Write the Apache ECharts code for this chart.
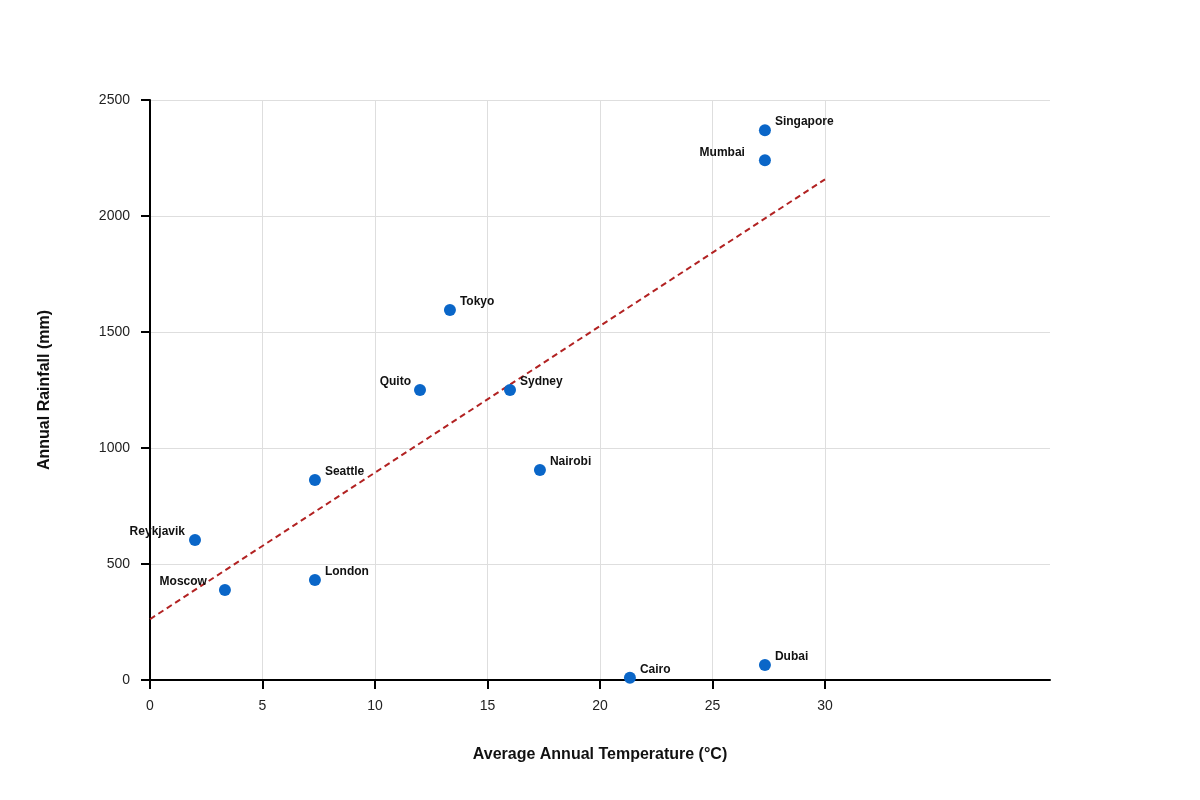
<!DOCTYPE html>
<html>
<head>
<meta charset="utf-8">
<script src="https://cdn.jsdelivr.net/npm/echarts@6/dist/echarts.min.js"></script>
<style>html,body{margin:0;padding:0;background:#fff}#c{width:1200px;height:800px}</style>
</head>
<body>
<div id="c"></div>
<script>
var cities = ['Singapore','Mumbai','Tokyo','Quito','Sydney','Nairobi','Seattle','Reykjavik','Moscow','London','Cairo','Dubai'];
var temperature = [27.33, 27.33, 13.33, 12.0, 16.0, 17.33, 7.33, 2.0, 3.33, 7.33, 21.33, 27.33];
var rainfall = [2370, 2240, 1595, 1250, 1250, 905, 862, 603, 388, 431, 10, 65];
var labelSide = ['right','left','right','left','right','right','right','left','left','right','right','right'];
var labelGap = [4, 14, 4, 3, 4, 4, 4, 4, 12, 4, 4, 4];
var trendX = [0, 30];
var trendY = [262, 2158];
var xTickValues = [0, 5, 10, 15, 20, 25, 30];

var font = 'Liberation Sans, Arial, Helvetica, sans-serif';
var pts = cities.map(function(c, i){
  return {
    name: c,
    value: [temperature[i], rainfall[i]],
    label: { position: labelSide[i], distance: labelGap[i] }
  };
});
var trend = trendX.map(function(x, i){ return [x, trendY[i]]; });

var chart = echarts.init(document.getElementById('c'), null, {renderer: 'canvas'});
chart.setOption({
  animation: false,
  backgroundColor: '#fff',
  grid: { left: 150, right: 150, top: 100, bottom: 120, containLabel: false },
  xAxis: {
    type: 'value', min: 0, max: 40, interval: 5,
    name: 'Average Annual Temperature (°C)',
    nameLocation: 'middle', nameGap: 67,
    nameTextStyle: { fontFamily: font, fontSize: 16, fontWeight: 'bold', color: '#111' },
    axisLine: { show: true, lineStyle: { color: '#000', width: 2 } },
    axisTick: { show: true, length: 9, lineStyle: { color: '#000', width: 2 }, customValues: xTickValues },
    axisLabel: { fontFamily: font, fontSize: 14, color: '#222', margin: 19, customValues: xTickValues,
                 formatter: function(v){ return String(v); } },
    splitLine: { show: true, lineStyle: { color: '#dedede', width: 1 } }
  },
  yAxis: {
    type: 'value', min: 0, max: 2500, interval: 500,
    name: 'Annual Rainfall (mm)',
    nameLocation: 'middle', nameGap: 97, nameRotate: 90,
    nameTextStyle: { fontFamily: font, fontSize: 16, fontWeight: 'bold', color: '#111' },
    axisLine: { show: true, lineStyle: { color: '#000', width: 2 } },
    axisTick: { show: true, length: 9, lineStyle: { color: '#000', width: 2 } },
    axisLabel: { fontFamily: font, fontSize: 14, color: '#222', margin: 20,
                 formatter: function(v){ return String(v); } },
    splitLine: { show: true, lineStyle: { color: '#dedede', width: 1 } }
  },
  series: [
    {
      type: 'line',
      data: trend,
      symbol: 'none',
      silent: true,
      z: 2,
      lineStyle: { color: '#b22222', width: 2, type: [6, 4] }
    },
    {
      type: 'scatter',
      data: pts,
      symbolSize: 12,
      z: 3,
      itemStyle: { color: '#0a66c8', opacity: 1 },
      label: {
        show: true,
        formatter: '{b}',
        offset: [0, -8],
        fontFamily: font, fontSize: 12, fontWeight: 'bold', color: '#111'
      }
    }
  ]
});
</script>
</body>
</html>
